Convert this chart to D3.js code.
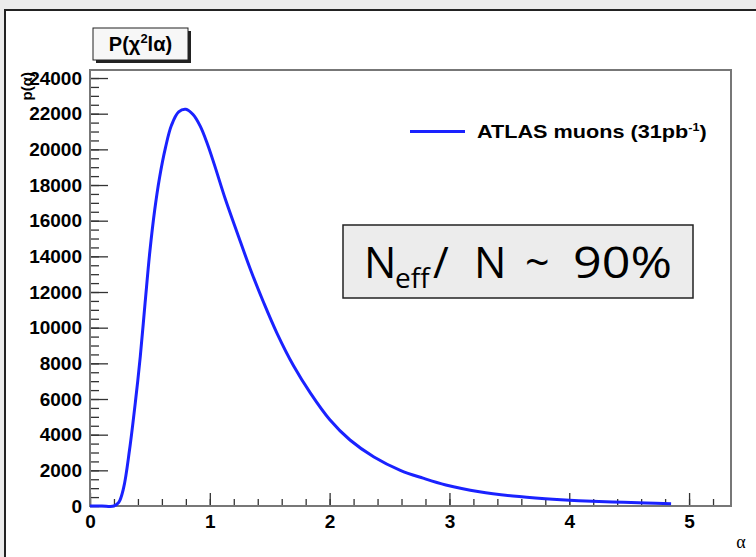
<!DOCTYPE html>
<html>
<head>
<meta charset="UTF-8">
<title>P(chi2|alpha)</title>
<script src="https://d3js.org/d3.v7.min.js"></script>
<style>
  body { margin: 0; background: #ebebeb; }
  svg text { font-family: "Liberation Sans", Arial, sans-serif; }
  .tick text { font-weight: bold; font-size: 19px; fill: #000; }
  svg .note text { font-family: "Open Sans", "Noto Sans", sans-serif; fill: #000; }
</style>
</head>
<body>
<svg id="chart" width="756" height="557"></svg>
<script>
// curve: alpha -> p
const alphaVals = [0, 0.1, 0.2, 0.24, 0.28, 0.33, 0.38, 0.42, 0.46, 0.5, 0.54, 0.58, 0.63, 0.68, 0.74, 0.8,
  0.86, 0.92, 0.98, 1.04, 1.13, 1.23, 1.34, 1.45, 1.56, 1.7, 1.84, 2.0, 2.17, 2.37, 2.59, 2.78, 2.97,
  3.25, 3.53, 3.8, 4.08, 4.36, 4.64, 4.85];
const pVals = [0, 0, 0, 200, 1000, 3150, 5900, 8400, 11400, 14300, 16600, 18400, 20100, 21350, 22100, 22250,
  21950, 21300, 20300, 19100, 17200, 15300, 13250, 11400, 9700, 7850, 6330, 4850, 3700, 2750, 2000, 1560, 1180,
  800, 560, 410, 300, 225, 170, 130];

const xTicks = [0, 1, 2, 3, 4, 5];
const yTicks = [0, 2000, 4000, 6000, 8000, 10000, 12000, 14000, 16000, 18000, 20000, 22000, 24000];
const seriesName = "ATLAS muons (31pb";

let svg = d3.select("svg#chart");
let frame = { left: 90, top: 70, right: 731, bottom: 506 };

// page frame
svg.append("rect").attr("x", 5).attr("y", 10).attr("width", 760).attr("height", 560)
  .attr("fill", "#fff").attr("stroke", "#222").attr("stroke-width", 2);

const xScale = d3.scaleLinear().domain([0, 5.35]).range([frame.left, frame.right]);
const yScale = d3.scaleLinear().domain([0, 24450]).range([frame.bottom, frame.top]);

// minor ticks
let xMinor = d3.range(0, 5.35, 0.2);
let yMinor = d3.range(0, 24450, 500);
svg.append("g").attr("transform", `translate(0,${frame.bottom})`)
  .call(d3.axisBottom(xScale).tickValues(xMinor).tickSize(-7).tickFormat(""))
  .call(g => g.select(".domain").remove())
  .selectAll("line").attr("stroke", "#333").attr("stroke-width", 1.3);
svg.append("g").attr("transform", `translate(${frame.left},0)`)
  .call(d3.axisLeft(yScale).tickValues(yMinor).tickSize(-9).tickFormat(""))
  .call(g => g.select(".domain").remove())
  .selectAll("line").attr("stroke", "#333").attr("stroke-width", 1.3);

// major ticks
let xAxis = svg.append("g").attr("transform", `translate(0,${frame.bottom})`)
  .call(d3.axisBottom(xScale).tickValues(xTicks).tickSize(-13).tickPadding(9).tickFormat(d3.format("d")));
xAxis.select(".domain").remove();
xAxis.selectAll("line").attr("stroke", "#333").attr("stroke-width", 1.3);

let yAxis = svg.append("g").attr("transform", `translate(${frame.left},0)`)
  .call(d3.axisLeft(yScale).tickValues(yTicks).tickSize(-18).tickPadding(8).tickFormat(d3.format("d")));
yAxis.select(".domain").remove();
yAxis.selectAll("line").attr("stroke", "#333").attr("stroke-width", 1.3);

// plot frame
svg.append("rect").attr("x", frame.left).attr("y", frame.top)
  .attr("width", frame.right - frame.left).attr("height", frame.bottom - frame.top)
  .attr("fill", "none").attr("stroke", "#777").attr("stroke-width", 2);

// curve
let pts = alphaVals.map((a, i) => [a, pVals[i]]);
svg.append("path").datum(pts)
  .attr("fill", "none").attr("stroke", "#1a22ff").attr("stroke-width", 3)
  .attr("stroke-linejoin", "round")
  .attr("d", d3.line().x(d => xScale(d[0])).y(d => yScale(Math.max(0, d[1])))
    .curve(d3.curveCatmullRom.alpha(0.5)));

// y title (rotated, mostly hidden behind labels)
svg.append("text").attr("transform", "translate(32,72) rotate(-90)")
  .attr("text-anchor", "end").attr("font-size", 15).attr("font-weight", "bold").text("p(α)");

// x title
svg.append("text").attr("x", 741).attr("y", 548).attr("text-anchor", "middle")
  .style("font-family", "'Liberation Serif', serif")
  .attr("font-size", 18).text("α");

// title box
svg.append("rect").attr("x", 96).attr("y", 31).attr("width", 95).attr("height", 32).attr("fill", "#222");
svg.append("rect").attr("x", 93).attr("y", 28).attr("width", 95).attr("height", 32)
  .attr("fill", "#f7f7f7").attr("stroke", "#222").attr("stroke-width", 1);
let title = svg.append("text").attr("x", 140.5).attr("y", 51).attr("text-anchor", "middle")
  .attr("font-size", 20).attr("font-weight", "bold");
title.append("tspan").text("P(χ");
title.append("tspan").attr("dy", -8).attr("font-size", 13).text("2");
title.append("tspan").attr("dy", 8).text("lα)");

// legend
svg.append("line").attr("x1", 410).attr("x2", 465).attr("y1", 131.5).attr("y2", 131.5)
  .attr("stroke", "#1a22ff").attr("stroke-width", 3);
let leg = svg.append("text").attr("transform", "translate(477,138) scale(1.14,1)")
  .attr("font-size", 19).attr("font-weight", "bold");
leg.append("tspan").text(seriesName);
leg.append("tspan").attr("dy", -7).attr("font-size", 11).text("-1");
leg.append("tspan").attr("dy", 7).text(")");

// annotation box
svg.append("rect").attr("x", 343).attr("y", 225).attr("width", 350).attr("height", 73)
  .attr("fill", "#ececec").attr("stroke", "#222").attr("stroke-width", 1.5);
let note = svg.append("g").attr("class", "note");
note.append("text").attr("x", 364).attr("y", 278).attr("font-size", 43).text("N");
note.append("text").attr("x", 395).attr("y", 288).attr("font-size", 28).text("eff");
note.append("text").attr("x", 433).attr("y", 278).attr("font-size", 43).text("/");
note.append("text").attr("x", 474).attr("y", 278).attr("font-size", 43).text("N");
note.append("text").attr("x", 525).attr("y", 278).attr("font-size", 43).text("~");
note.append("text").attr("x", 573).attr("y", 278).attr("font-size", 43)
  .attr("textLength", 99).attr("lengthAdjust", "spacingAndGlyphs").text("90%");
</script>
</body>
</html>
